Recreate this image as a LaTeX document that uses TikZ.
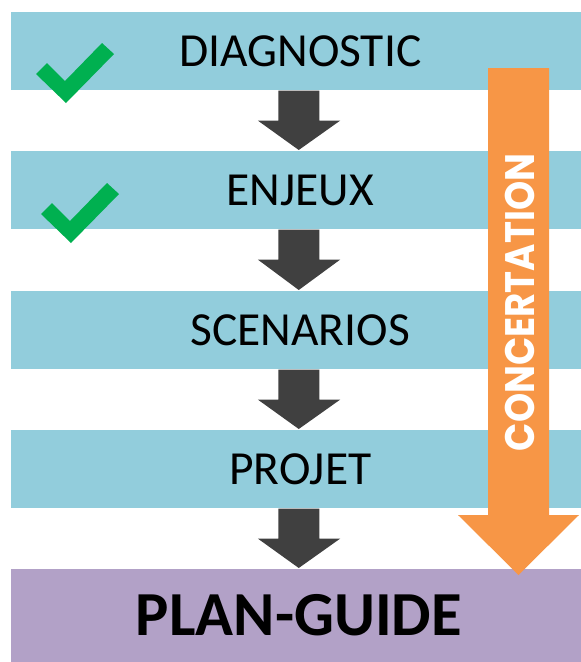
\documentclass[tikz,border=0pt]{standalone}
\usepackage{fontspec}
\setmainfont{Carlito}
\newfontfamily\concfont{Poppins}
\usetikzlibrary{calc}
\definecolor{barblue}{HTML}{92CDDC}
\definecolor{barpurple}{HTML}{B2A1C7}
\definecolor{concorange}{HTML}{F79646}
\definecolor{checkgreen}{HTML}{00B050}
\definecolor{arrowdark}{HTML}{404040}
\tikzset{
  stepbar/.style={fill=barblue, draw=none, anchor=north west, inner sep=0pt,
    minimum width=427.5pt, minimum height=58.5pt,
    font=\fontsize{35.6}{40}\selectfont, text height=22.9pt, text depth=0pt},
  finalbar/.style={fill=barpurple, draw=none, anchor=north west, inner sep=0pt,
    minimum width=427.5pt, minimum height=69.75pt,
    font=\fontsize{47}{52}\selectfont\bfseries, text height=30.3pt, text depth=0pt},
  darkarrow/.style={fill=arrowdark},
  concarrow/.style={fill=concorange},
  checkmark/.style={fill=checkgreen},
}
\begin{document}
\begin{tikzpicture}[x=0.75pt, y=-0.75pt]
\useasboundingbox (0,0) rectangle (581,662);
% bars
\node[stepbar] (d1) at (11,12) {\hspace*{6pt}DIAGNOSTIC};
\node[stepbar] (d2) at (11,151) {\hspace*{6pt}ENJEUX};
\node[stepbar] (d3) at (11,291) {\hspace*{6pt}SCENARIOS};
\node[stepbar] (d4) at (11,430) {\hspace*{6pt}PROJET};
\node[finalbar] (pg) at (11,569) {\hspace*{4pt}PLAN-GUIDE};
% dark arrows between steps
\foreach \a/\b in {d1/d2,d2/d3,d3/d4,d4/pg}{
  \fill[darkarrow] ($(\a.south)+(-18,0)$) -- ($(\a.south)+(23,0)$)
    -- ($(\a.south)+(23,30)$) -- ($(\a.south)+(44,30)$)
    -- ($(\b.north)+(2.5,-1)$)
    -- ($(\a.south)+(-38.5,30)$) -- ($(\a.south)+(-18,30)$) -- cycle;
}
% check marks
\foreach \dx/\dy in {0/0,5/140}{
  \fill[checkmark, shift={(\dx,\dy)}] (36,74) -- (47,63) -- (65,81) -- (102,43)
    -- (114,54) -- (66,103) -- cycle;
}
% concertation arrow
\fill[concarrow] (488,68) -- (549,68) -- (549,515) -- (579,515) -- (518.5,575)
  -- (458,515) -- (488,515) -- cycle;
\node[rotate=90, text=white, inner sep=0pt] (conc) at (520,302.5)
  {\resizebox{223pt}{22pt}{\concfont\bfseries CONCERTATION}};
\end{tikzpicture}
\end{document}
